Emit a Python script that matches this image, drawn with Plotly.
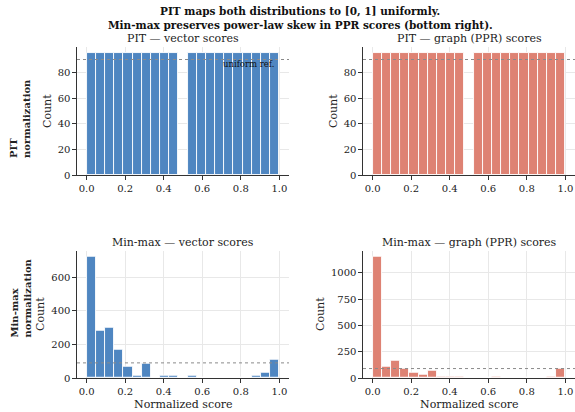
import plotly.graph_objects as go

# ---------------- data ----------------
n_bins = 21
pit_vector = [95, 95, 95, 95, 95, 95, 95, 95, 95, 95, 0, 95, 95, 95, 95, 95, 95, 95, 95, 95, 95]
pit_graph = [95, 95, 95, 95, 95, 95, 95, 95, 95, 95, 0, 95, 95, 95, 95, 95, 95, 95, 95, 95, 95]
mm_vector = [722, 282, 300, 168, 70, 14, 88, 0, 14, 14, 0, 14, 0, 0, 0, 0, 0, 0, 14, 32, 110]
mm_graph = [1154, 105, 163, 90, 48, 29, 67, 13, 13, 13, 0, 0, 0, 13, 0, 0, 0, 0, 0, 13, 90]
uniform_ref = 90

x_ticks = [0.0, 0.2, 0.4, 0.6, 0.8, 1.0]
x_tick_labels = ["0.0", "0.2", "0.4", "0.6", "0.8", "1.0"]

panel_titles = ["PIT — vector scores", "PIT — graph (PPR) scores",
                "Min-max — vector scores", "Min-max — graph (PPR) scores"]
row_labels = ["PIT<br>normalization", "Min-max<br>normalization"]
title_lines = ["PIT maps both distributions to [0, 1] uniformly.",
               "Min-max preserves power-law skew in PPR scores (bottom right)."]

BLUE = "#4F86C1"
RED = "#DE8273"

bin_w = 1.0 / n_bins
centers = [(i + 0.5) * bin_w for i in range(n_bins)]

W, H = 575, 412
ML, MR, MT, MB = 77, 0, 47, 34
PW, PH = W - ML - MR, H - MT - MB


def px(x):
    return (x - ML) / PW


def py(y):
    return (H - MB - y) / PH


FONT = "DejaVu Serif"
fig = go.Figure()

panels = [
    (pit_vector, BLUE, "x", "y", [0, 99.75], 20),
    (pit_graph, RED, "x2", "y2", [0, 99.75], 20),
    (mm_vector, BLUE, "x3", "y3", [0, 758], 200),
    (mm_graph, RED, "x4", "y4", [0, 1212], 250),
]

for counts, col, xa, ya, yr, dt in panels:
    fig.add_trace(go.Bar(
        x=centers, y=counts, width=bin_w, xaxis=xa, yaxis=ya,
        marker=dict(color=col, line=dict(color="white", width=0.9)),
        showlegend=False, hoverinfo="x+y",
    ))

dom_x = [[0, px(289)], [px(363), 1]]
dom_y = [[py(175), 1], [0, py(250.7)]]

axis_common = dict(
    showline=True, linecolor="#333", linewidth=1.1,
    ticks="outside", ticklen=3.5, tickwidth=1, tickcolor="#333",
    showgrid=True, gridcolor="#e8e8e8", gridwidth=0.8,
    zeroline=False, tickfont=dict(family=FONT, size=10, color="#222"),
)

layout = {}
for i, (counts, col, xa, ya, yr, dt) in enumerate(panels):
    r, c = divmod(i, 2)
    xname = "xaxis" if i == 0 else f"xaxis{i+1}"
    yname = "yaxis" if i == 0 else f"yaxis{i+1}"
    layout[xname] = dict(axis_common, domain=dom_x[c], anchor=ya, range=[-0.05, 1.05],
                         tickvals=x_ticks, ticktext=x_tick_labels)
    layout[yname] = dict(axis_common, domain=dom_y[r], anchor=xa, range=yr, dtick=dt)

fig.update_layout(**layout)

shapes = []
for i, (counts, col, xa, ya, yr, dt) in enumerate(panels):
    shapes.append(dict(type="line", xref=f"{xa} domain", yref=ya, x0=0, x1=1,
                       y0=uniform_ref, y1=uniform_ref,
                       line=dict(color="#8a8a8a", width=1, dash="dot")))
fig.update_layout(shapes=shapes)

ann = []
# figure title
for txt, yy in zip(title_lines, [11, 24.5]):
    ann.append(dict(text=f"<b>{txt}</b>", x=px(300), y=py(yy), xref="paper", yref="paper",
                    showarrow=False, xanchor="center", yanchor="middle",
                    font=dict(family=FONT, size=10.5, color="#111")))
# panel titles
title_pos = [(183, 38.5), (469, 38.5), (183, 242), (469, 242)]
for t, (xx, yy) in zip(panel_titles, title_pos):
    ann.append(dict(text=t, x=px(xx), y=py(yy), xref="paper", yref="paper",
                    showarrow=False, xanchor="center", yanchor="middle",
                    font=dict(family=FONT, size=11, color="#222")))
# Count labels
for xx, yy in [(47, 111), (333, 111), (40, 314), (320, 314)]:
    ann.append(dict(text="Count", x=px(xx), y=py(yy), xref="paper", yref="paper",
                    showarrow=False, textangle=-90, xanchor="center", yanchor="middle",
                    font=dict(family=FONT, size=11, color="#222")))
# x axis titles
for xx in [183, 469]:
    ann.append(dict(text="Normalized score", x=px(xx), y=py(404), xref="paper", yref="paper",
                    showarrow=False, xanchor="center", yanchor="middle",
                    font=dict(family=FONT, size=11, color="#222")))
# row labels
for t, yy in zip(row_labels, [119, 298.5]):
    ann.append(dict(text=f"<b>{t}</b>", x=px(20), y=py(yy), xref="paper", yref="paper",
                    showarrow=False, textangle=-90, align="left",
                    xanchor="center", yanchor="middle",
                    font=dict(family=FONT, size=10, color="#222")))
# uniform ref text
ann.append(dict(text="uniform ref.", x=0.98, y=uniform_ref, xref="x", yref="y",
                showarrow=False, xanchor="right", yanchor="top", yshift=3,
                font=dict(family=FONT, size=8.5, color="#111")))
fig.update_layout(annotations=ann)

fig.update_layout(
    width=W, height=H, margin=dict(l=ML, r=MR, t=MT, b=MB),
    paper_bgcolor="white", plot_bgcolor="white", bargap=0,
    font=dict(family=FONT, size=10, color="#222"),
)

fig.write_html("out.html", config={"displayModeBar": False},
               post_script="document.body.style.margin='0';document.body.style.overflow='hidden';")
